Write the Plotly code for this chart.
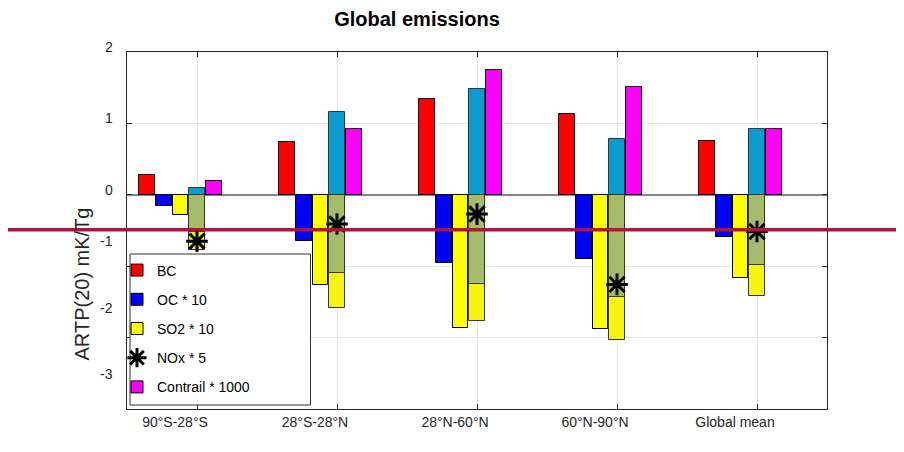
import plotly.graph_objects as go

# ---------------- data ----------------
categories = ["90°S-28°S", "28°S-28°N", "28°N-60°N", "60°N-90°N", "Global mean"]
bc = [0.28, 0.735, 1.345, 1.135, 0.76]
oc_x10 = [-0.15, -0.64, -0.96, -0.90, -0.595]
so2_x10 = [-0.28, -1.26, -1.865, -1.875, -1.165]
nox_pos = [0.09, 1.16, 1.48, 0.785, 0.92]          # cyan part of NOx bar
nox_neg = [-0.52, -1.10, -1.245, -1.425, -0.99]    # olive part of NOx bar
nox_low = [-0.77, -1.58, -1.77, -2.03, -1.42]      # yellow bottom of NOx bar
nox_net_x5 = [-0.65, -0.41, -0.27, -1.255, -0.515]  # star: NOx * 5
contrail_x1000 = [0.19, 0.92, 1.75, 1.505, 0.925]
yticks = [2, 1, 0, -1, -2, -3]
ytick_labels = ["2", "1", "0", "-1", "-2", "-3"]
ref_line_value = -0.49

# ---------------- layout constants ----------------
OFF = 8                      # page body margin of the html page
W, H = 904 - OFF, 452 - OFF  # figure size
ML, MT = 127 - OFF, 52 - OFF
MR, MB = 77, 43
PW, PH = W - ML - MR, H - MT - MB
YMIN, YMAX = -3, 2
FONT = "Liberation Sans, Arial, Helvetica, sans-serif"
AX = "#262626"


def px_x(page_x):
    """page pixel x -> paper x"""
    return (page_x - OFF - ML) / PW


def px_y(page_y):
    """page pixel y -> paper y"""
    return (H - MB - (page_y - OFF)) / PH


bw = 0.112
step = 0.119


def bar(y, color, name, slot, legend=False, rank=None, line="#000000"):
    return go.Bar(
        x=categories, y=y, name=name,
        offset=slot * step - bw / 2, width=bw,
        marker=dict(color=color, line=dict(color=line, width=1)),
        showlegend=legend, legendrank=rank, legendgroup=name,
    )


fig = go.Figure()
fig.add_trace(bar(bc, "#ff0000", "BC", -3, True, 1))
fig.add_trace(bar(oc_x10, "#0000ff", "OC * 10", -2, True, 2))
fig.add_trace(bar(so2_x10, "#ffff00", "SO2 * 10", -1, True, 3))
fig.add_trace(bar(nox_low, "#f4f40e", "NOx low", 0, line="#333333"))
fig.add_trace(bar(nox_neg, "#a5bd6a", "NOx neg", 0, line="#333333"))
fig.add_trace(bar(nox_pos, "#0a9bcf", "NOx pos", 0, line="#333333"))
fig.add_trace(bar(contrail_x1000, "#ff00ff", "Contrail * 1000", 1, True, 5))
fig.add_trace(go.Scatter(
    x=categories, y=nox_net_x5, mode="markers", name="NOx * 5",
    marker=dict(symbol="asterisk-open", size=18, color="#000000",
                line=dict(color="#000000", width=3)),
    showlegend=True, legendrank=4, legendgroup="NOx * 5",
))

# y tick labels (placed as text next to the axis)
yshift = [5, 5, 5, 25, 30, 35]
annotations = []
for v, t, s in zip(yticks, ytick_labels, yshift):
    annotations.append(dict(
        x=0, xref="paper", xanchor="right", xshift=-12,
        y=v, yref="y", yanchor="middle", yshift=s,
        text=t, showarrow=False, font=dict(family=FONT, size=14, color=AX),
    ))
# y axis title
annotations.append(dict(
    x=px_x(81.5), xref="paper", y=px_y(284), yref="paper",
    text="ARTP(20) mK/Tg", textangle=-90, showarrow=False,
    xanchor="center", yanchor="middle",
    font=dict(family=FONT, size=20, color=AX),
))

shapes = [
    # legend box
    dict(type="rect", xref="paper", yref="paper", layer="above",
         x0=px_x(130), x1=px_x(310.5), y0=px_y(405), y1=px_y(254),
         line=dict(color="#333333", width=1), fillcolor="white"),
    # crimson horizontal line across the whole figure
    dict(type="line", xref="paper", yref="paper", layer="above",
         x0=px_x(0), x1=px_x(910),
         y0=(ref_line_value - YMIN) / (YMAX - YMIN),
         y1=(ref_line_value - YMIN) / (YMAX - YMIN),
         line=dict(color="#b3123c", width=3.5)),
]

fig.update_layout(
    width=W, height=H,
    margin=dict(l=ML, r=MR, t=MT, b=MB, pad=0),
    paper_bgcolor="white", plot_bgcolor="white",
    barmode="overlay",
    font=dict(family=FONT, size=14, color=AX),
    title=dict(text="<b>Global emissions</b>", x=(417 - OFF) / W, xref="container",
               xanchor="center", y=1 - 4 / H, yref="container", yanchor="top",
               pad=dict(t=0, b=0, l=0, r=0),
               font=dict(family=FONT, size=20, color="#000000")),
    showlegend=True,
    legend=dict(
        x=px_x(117), xanchor="left",
        y=px_y(254.5), yanchor="top",
        bgcolor="rgba(0,0,0,0)", borderwidth=0,
        font=dict(family=FONT, size=14, color="#000000"),
        tracegroupgap=8, traceorder="grouped",
    ),
    annotations=annotations,
    shapes=shapes,
    bargap=0,
)

fig.update_xaxes(
    type="category", categoryorder="array", categoryarray=categories,
    range=[-0.5, 4.5],
    showline=True, linecolor=AX, linewidth=1, mirror="ticks",
    ticks="inside", ticklen=5, tickcolor=AX,
    showgrid=True, gridcolor="#e6e6e6", gridwidth=1,
    tickfont=dict(family=FONT, size=14, color=AX),
    ticklabelshift=-22,
)
fig.update_yaxes(
    range=[YMIN, YMAX], tickvals=yticks, showticklabels=False,
    showline=True, linecolor=AX, linewidth=1, mirror="ticks",
    ticks="inside", ticklen=5, tickcolor=AX,
    showgrid=True, gridcolor="#e6e6e6", gridwidth=1,
    zeroline=True, zerolinecolor="#858585", zerolinewidth=1.5,
)

fig.write_html("out.html")
